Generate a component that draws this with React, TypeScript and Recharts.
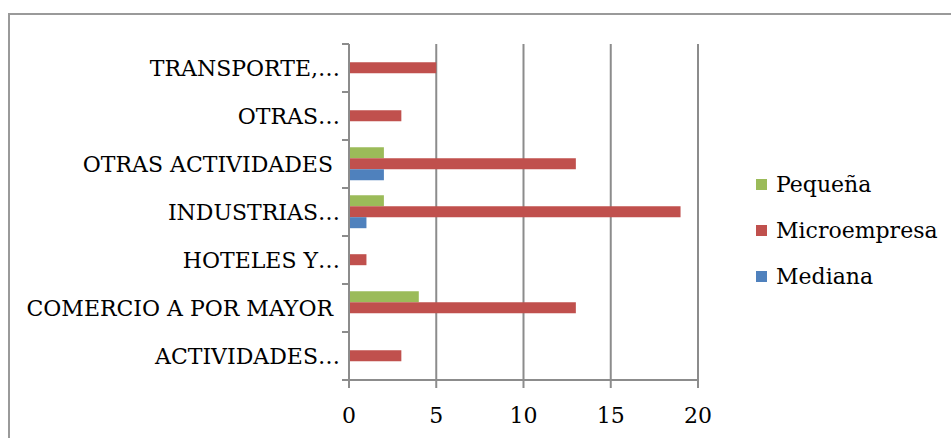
import React from "react";
import { Bar, BarChart, CartesianGrid, XAxis, YAxis } from "recharts";

const categories = [
  "TRANSPORTE,…",
  "OTRAS…",
  "OTRAS ACTIVIDADES ",
  "INDUSTRIAS…",
  "HOTELES Y…",
  "COMERCIO A POR MAYOR ",
  "ACTIVIDADES…",
];
const pequena = [0, 0, 2, 2, 0, 4, 0];
const microempresa = [5, 3, 13, 19, 1, 13, 3];
const mediana = [0, 0, 2, 1, 0, 0, 0];
const xTicks = [0, 5, 10, 15, 20];

const series = [
  { key: "pequena", name: "Pequeña", color: "#9BBB59" },
  { key: "micro", name: "Microempresa", color: "#C0504D" },
  { key: "mediana", name: "Mediana", color: "#4F81BD" },
];

const data = categories.map((name, i) => ({
  name,
  pequena: pequena[i],
  micro: microempresa[i],
  mediana: mediana[i],
}));

const FONT = '"DejaVu Serif", serif';
const AXIS = "#8c8c8c";

/* ── Category tick: label + boundary tick marks ─────────────── */
function CategoryTick(props: any) {
  const { x, y, payload, index } = props;
  const half = payload?.offset || 24;
  const x2 = x + 9;
  return (
    <g>
      <text
        x={x}
        y={y}
        dy={8}
        textAnchor="end"
        fill="#000"
        fontSize={22}
        fontFamily={FONT}
        style={{ whiteSpace: "pre" }}
      >
        {payload.value}
      </text>
      <line x1={x2 - 7} x2={x2} y1={y - half} y2={y - half} stroke={AXIS} strokeWidth={2} />
      {index === categories.length - 1 ? (
        <line x1={x2 - 7} x2={x2} y1={y + half} y2={y + half} stroke={AXIS} strokeWidth={2} />
      ) : null}
    </g>
  );
}

export default function App() {
  return (
    <div
      style={{
        position: "absolute",
        left: 0,
        top: 0,
        width: 951,
        height: 438,
        overflow: "hidden",
        background: "#fff",
        fontFamily: FONT,
      }}
    >
      {/* outer chart border */}
      <div
        style={{
          position: "absolute",
          left: 8,
          top: 13,
          width: 980,
          height: 460,
          border: "2px solid #9a9a9a",
          boxSizing: "border-box",
        }}
      />
      <BarChart
        width={951}
        height={438}
        data={data}
        layout="vertical"
        margin={{ top: 44, right: 253, bottom: 0, left: 0 }}
        barCategoryGap="15%"
        barGap={0}
        style={{ position: "absolute", left: 0, top: 0 }}
      >
        <CartesianGrid horizontal={false} stroke={AXIS} strokeWidth={2} />
        <XAxis
          type="number"
          domain={[0, 20]}
          ticks={xTicks}
          height={58}
          tickSize={8}
          tickMargin={19}
          stroke={AXIS}
          axisLine={{ stroke: AXIS, strokeWidth: 2 }}
          tickLine={{ stroke: AXIS, strokeWidth: 2 }}
          tick={{ fill: "#000", fontSize: 22, fontFamily: FONT }}
        />
        <YAxis
          type="category"
          dataKey="name"
          width={349}
          tickLine={false}
          tickSize={0}
          tickMargin={9}
          interval={0}
          axisLine={{ stroke: AXIS, strokeWidth: 2 }}
          tick={<CategoryTick />}
        />
        {series.map((s) => (
          <Bar
            key={s.key}
            dataKey={s.key}
            name={s.name}
            fill={s.color}
            isAnimationActive={false}
          />
        ))}
      </BarChart>
      {/* Legend */}
      <div style={{ position: "absolute", left: 756, top: 161 }}>
        {series.map((s) => (
          <div
            key={s.key}
            style={{ display: "flex", alignItems: "center", height: 46, fontSize: 22, color: "#000" }}
          >
            <span style={{ width: 11, height: 11, background: s.color, marginRight: 9 }} />
            {s.name}
          </div>
        ))}
      </div>
    </div>
  );
}
